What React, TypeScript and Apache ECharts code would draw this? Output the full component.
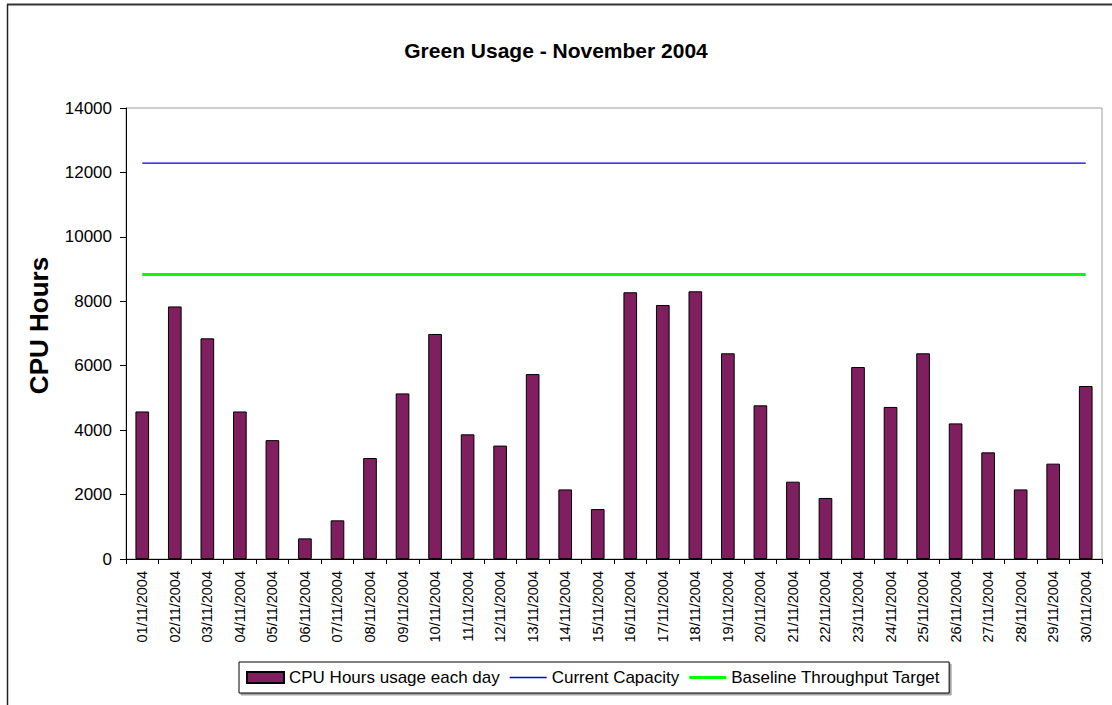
import React, { useEffect, useRef } from "react";
import * as echarts from "echarts";

const categories = [
  "01/11/2004", "02/11/2004", "03/11/2004", "04/11/2004", "05/11/2004",
  "06/11/2004", "07/11/2004", "08/11/2004", "09/11/2004", "10/11/2004",
  "11/11/2004", "12/11/2004", "13/11/2004", "14/11/2004", "15/11/2004",
  "16/11/2004", "17/11/2004", "18/11/2004", "19/11/2004", "20/11/2004",
  "21/11/2004", "22/11/2004", "23/11/2004", "24/11/2004", "25/11/2004",
  "26/11/2004", "27/11/2004", "28/11/2004", "29/11/2004", "30/11/2004",
];

const cpuHours = [
  4580, 7840, 6850, 4580, 3690, 640, 1200, 3135, 5140, 6985,
  3870, 3520, 5740, 2160, 1550, 8280, 7885, 8310, 6385, 4770,
  2400, 1895, 5960, 4720, 6385, 4210, 3310, 2160, 2960, 5370,
];

const currentCapacity = [
  12290, 12290, 12290, 12290, 12290, 12290, 12290, 12290, 12290, 12290,
  12290, 12290, 12290, 12290, 12290, 12290, 12290, 12290, 12290, 12290,
  12290, 12290, 12290, 12290, 12290, 12290, 12290, 12290, 12290, 12290,
];

const baselineTarget = [
  8830, 8830, 8830, 8830, 8830, 8830, 8830, 8830, 8830, 8830,
  8830, 8830, 8830, 8830, 8830, 8830, 8830, 8830, 8830, 8830,
  8830, 8830, 8830, 8830, 8830, 8830, 8830, 8830, 8830, 8830,
];

const FONT = "Liberation Sans, Arial, Helvetica, sans-serif";
const BLUE = "#0000dd";
const GREEN = "#00ff00";

export default function App() {
  const ref = useRef<HTMLDivElement>(null);

  useEffect(() => {
    document.body.style.margin = "0";
    const chart = echarts.init(ref.current!, null, { renderer: "svg" });
    chart.setOption({
      animation: false,
      backgroundColor: "#ffffff",
      textStyle: { fontFamily: FONT, color: "#000" },
      title: {
        text: "Green Usage - November 2004",
        left: "center",
        top: 35,
        textStyle: { fontSize: 21, fontWeight: "bold", color: "#000", fontFamily: FONT },
      },
      graphic: [
        { type: "line", shape: { x1: 7.5, y1: 4, x2: 7.5, y2: 705 }, style: { stroke: "#222", lineWidth: 1.5 } },
        { type: "line", shape: { x1: 7, y1: 4.5, x2: 1112, y2: 4.5 }, style: { stroke: "#333", lineWidth: 2 } },
      ],
      grid: {
        left: 126,
        top: 108,
        right: 10,
        bottom: 146,
        show: true,
        borderColor: "#a0a0a0",
        borderWidth: 1,
        containLabel: false,
      },
      legend: {
        left: 239,
        top: 662,
        orient: "horizontal",
        borderColor: "#000",
        borderWidth: 1,
        padding: [7, 9, 7, 7],
        itemGap: 10,
        itemWidth: 37,
        itemHeight: 11,
        shadowColor: "rgba(0,0,0,0.35)",
        shadowOffsetX: 2,
        shadowOffsetY: 2,
        backgroundColor: "#fff",
        textStyle: { fontSize: 17, color: "#000", fontFamily: FONT },
        data: [
          { name: "CPU Hours usage each day", icon: "rect" },
          {
            name: "Current Capacity",
            icon: "path://M0,0H37V1.5H0Z",
            itemStyle: { color: BLUE, borderWidth: 0, borderColor: BLUE },
          },
          {
            name: "Baseline Throughput Target",
            icon: "path://M0,0H37V3H0Z",
            itemStyle: { color: GREEN, borderWidth: 0, borderColor: GREEN },
          },
        ],
      },
      xAxis: {
        type: "category",
        data: categories,
        boundaryGap: true,
        axisLine: { lineStyle: { color: "#000", width: 1 } },
        axisTick: { show: true, length: 5, lineStyle: { color: "#000" } },
        axisLabel: { rotate: 90, fontSize: 14.5, color: "#000", margin: 12, fontFamily: FONT, interval: 0 },
      },
      yAxis: {
        type: "value",
        min: 0,
        max: 14000,
        interval: 2000,
        name: "CPU Hours",
        nameLocation: "middle",
        nameGap: 74,
        nameRotate: 90,
        nameTextStyle: {
          fontSize: 26,
          fontWeight: "bold",
          color: "#000",
          fontFamily: FONT,
          padding: [0, 0, 0, 16],
        },
        axisLine: { show: true, lineStyle: { color: "#000", width: 1 } },
        axisTick: { show: true, length: 6, lineStyle: { color: "#000" } },
        axisLabel: {
          fontSize: 17,
          color: "#000",
          margin: 14,
          fontFamily: FONT,
          formatter: (v: number) => String(v),
        },
        splitLine: { show: false },
      },
      series: [
        {
          name: "CPU Hours usage each day",
          type: "bar",
          data: cpuHours,
          barWidth: "42%",
          itemStyle: { color: "#7f1f5f", borderColor: "#000", borderWidth: 1 },
        },
        {
          name: "Current Capacity",
          type: "line",
          data: currentCapacity,
          symbol: "none",
          lineStyle: { color: BLUE, width: 1.2 },
          itemStyle: { color: BLUE },
        },
        {
          name: "Baseline Throughput Target",
          type: "line",
          data: baselineTarget,
          symbol: "none",
          lineStyle: { color: GREEN, width: 3 },
          itemStyle: { color: GREEN },
        },
      ],
    });
    return () => chart.dispose();
  }, []);

  return <div ref={ref} style={{ width: 1112, height: 705 }} />;
}
